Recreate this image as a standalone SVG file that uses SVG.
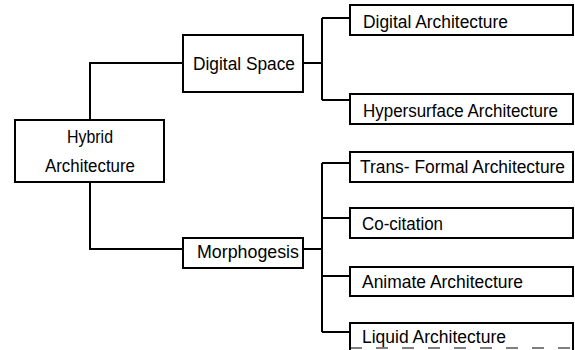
<svg xmlns="http://www.w3.org/2000/svg" width="575" height="350" viewBox="0 0 575 350">
<style>
.box{fill:#fff;stroke:#000;stroke-width:2}
.ln{fill:none;stroke:#000;stroke-width:2}
text{font-family:"Liberation Sans",Arial,sans-serif;font-size:17.5px;fill:#000}
</style>
<rect width="575" height="350" fill="#fff"/>
<g id="connectors">
<path class="ln" d="M90,120 V63 H183"/>
<path class="ln" d="M90,182 V249 H183"/>
<path class="ln" d="M303,63 H322 M322,18 V100 M322,18 H350 M322,100 H350"/>
<path class="ln" d="M303,249 H322 M322,163 V332 M322,163 H350 M322,218 H350 M322,276 H350 M322,332 H350"/>
</g>
<g id="hybrid">
<rect class="box" x="15" y="120" width="149" height="62"/>
<text x="67" y="143" textLength="46" lengthAdjust="spacingAndGlyphs">Hybrid</text>
<text x="45" y="172" textLength="90" lengthAdjust="spacingAndGlyphs">Architecture</text>
</g>
<g id="digital-space">
<rect class="box" x="183" y="35" width="120" height="57"/>
<text x="193" y="70" textLength="102" lengthAdjust="spacingAndGlyphs">Digital Space</text>
</g>
<g id="morphogesis">
<rect class="box" x="183" y="238" width="120" height="30"/>
<text x="197" y="258" textLength="102" lengthAdjust="spacingAndGlyphs">Morphogesis</text>
</g>
<g id="digital-architecture">
<rect class="box" x="350" y="5" width="223" height="30"/>
<text x="363" y="28" textLength="145" lengthAdjust="spacingAndGlyphs">Digital Architecture</text>
</g>
<g id="hypersurface-architecture">
<rect class="box" x="350" y="94" width="223" height="30"/>
<text x="363" y="117" textLength="195" lengthAdjust="spacingAndGlyphs">Hypersurface Architecture</text>
</g>
<g id="trans-formal-architecture">
<rect class="box" x="350" y="152" width="223" height="30"/>
<text x="360" y="173" textLength="205" lengthAdjust="spacingAndGlyphs">Trans- Formal Architecture</text>
</g>
<g id="co-citation">
<rect class="box" x="350" y="208" width="223" height="30"/>
<text x="362" y="230" textLength="81" lengthAdjust="spacingAndGlyphs">Co-citation</text>
</g>
<g id="animate-architecture">
<rect class="box" x="350" y="267" width="223" height="29"/>
<text x="362" y="288" textLength="161" lengthAdjust="spacingAndGlyphs">Animate Architecture</text>
</g>
<g id="liquid-architecture">
<path class="ln" d="M350,350 V323 H573 V350"/>
<path d="M350,348 H573" stroke="#000" stroke-width="1.2" stroke-dasharray="12,14"/>
<text x="362" y="343" textLength="144" lengthAdjust="spacingAndGlyphs">Liquid Architecture</text>
</g>
</svg>
